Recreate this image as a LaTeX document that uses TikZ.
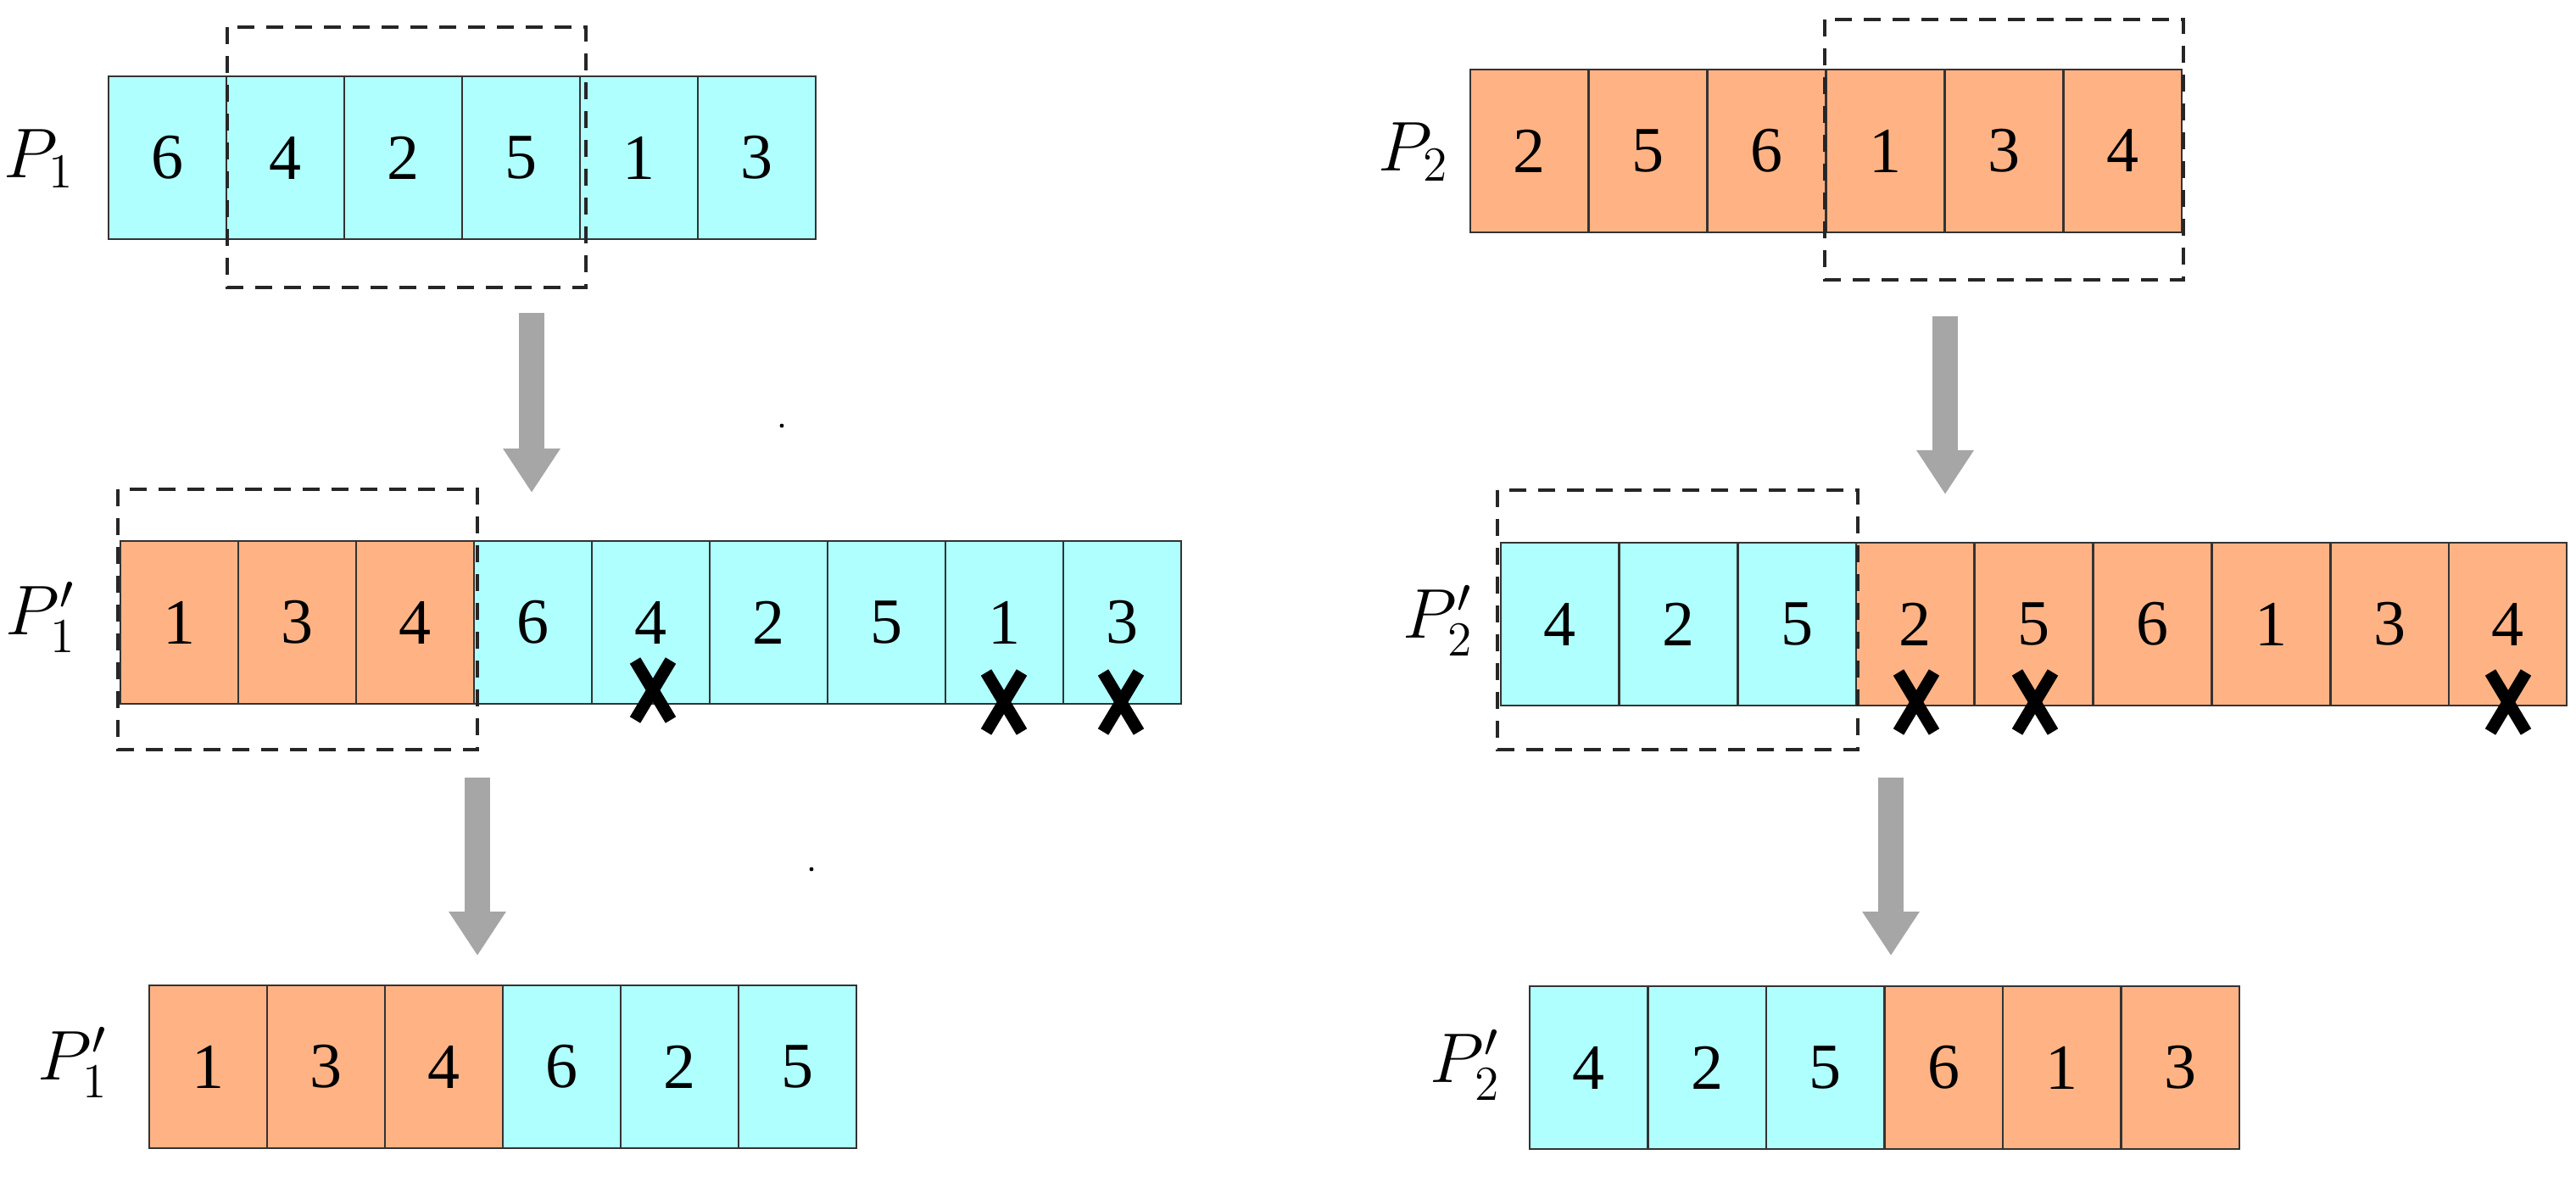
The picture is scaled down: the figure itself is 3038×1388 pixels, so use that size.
\documentclass[tikz,border=0pt]{standalone}
\usepackage{fontspec}
\setmainfont{Liberation Serif}
\usetikzlibrary{arrows.meta}
\definecolor{cy}{HTML}{B0FFFF}
\definecolor{orr}{HTML}{FFB385}
\definecolor{ag}{HTML}{A6A6A6}
\begin{document}
\begin{tikzpicture}[x=0.25pt,y=-0.25pt,
  cell/.style={draw=black!80,line width=0.5pt,minimum width=34.75pt,minimum height=48pt,inner sep=0pt,outer sep=0pt,anchor=north west,font=\fontsize{19}{19}\selectfont},
  c/.style={cell,fill=cy},o/.style={cell,fill=orr},
  dbox/.style={draw=black!85,line width=0.9pt,dash pattern=on 5pt off 3.5pt},
  garrow/.style={draw=ag,line width=7.3pt,-{Triangle[length=13pt,width=16pt]}},
  xm/.style={line width=3.6pt,black},
  lab/.style={font=\fontsize{21}{21}\selectfont}]
\useasboundingbox (0,0) rectangle (3038,1388);
% row 1 left
\foreach \v [count=\i] in {6,4,2,5,1,3} \node[c] (a\i) at ({128+139*(\i-1)},90) {\v};
\node[lab] (la) at (46,187) {$P_1$};
\draw[dbox] (268,32) rectangle (691,339);
% row 2 left
\foreach \v/\s [count=\i] in {1/o,3/o,4/o,6/c,4/c,2/c,5/c,1/c,3/c} \node[\s] (b\i) at ({142+139*(\i-1)},638) {\v};
\node[lab] (lb) at (48,728) {$P_1'$};
\draw[dbox] (139,577) rectangle (563,884);
% row 3 left
\foreach \v/\s [count=\i] in {1/o,3/o,4/o,6/c,2/c,5/c} \node[\s] (e\i) at ({176+139*(\i-1)},1162) {\v};
\node[lab] (le) at (86,1253) {$P_1'$};
% arrows left
\coordinate (s1) at (627,369); \coordinate (t1) at (627,581);
\coordinate (s2) at (563,917); \coordinate (t2) at (563,1127);
\draw[garrow] (s1) -- (t1);
\draw[garrow] (s2) -- (t2);
% X marks left
\coordinate (x1) at (770,814); \coordinate (x2) at (1184,828); \coordinate (x3) at (1322,828);
\foreach \p in {x1,x2,x3}{\draw[xm] ([shift={(-21,-35)}]\p) -- ([shift={(21,35)}]\p); \draw[xm] ([shift={(21,-35)}]\p) -- ([shift={(-21,35)}]\p);}
% row 1 right
\foreach \v [count=\i] in {2,5,6,1,3,4} \node[o] (r\i) at ({1734+140*(\i-1)},82) {\v};
\node[lab] (lr) at (1667,179) {$P_2$};
\draw[dbox] (2152,23) rectangle (2575,330);
% row 2 right
\foreach \v/\s [count=\i] in {4/c,2/c,5/c,2/o,5/o,6/o,1/o,3/o,4/o} \node[\s] (q\i) at ({1770+139.8*(\i-1)},640) {\v};
\node[lab] (lq) at (1696,732) {$P_2'$};
\draw[dbox] (1766,578) rectangle (2191,884);
% row 3 right
\foreach \v/\s [count=\i] in {4/c,2/c,5/c,6/o,1/o,3/o} \node[\s] (w\i) at ({1804+139.5*(\i-1)},1163) {\v};
\node[lab] (lw) at (1728,1256) {$P_2'$};
% arrows right
\coordinate (s3) at (2294,373); \coordinate (t3) at (2294,583);
\coordinate (s4) at (2230,917); \coordinate (t4) at (2230,1127);
\draw[garrow] (s3) -- (t3);
\draw[garrow] (s4) -- (t4);
\coordinate (y1) at (2260,828); \coordinate (y2) at (2400,828); \coordinate (y3) at (2958,828);
\foreach \p in {y1,y2,y3}{\draw[xm] ([shift={(-21,-35)}]\p) -- ([shift={(21,35)}]\p); \draw[xm] ([shift={(21,-35)}]\p) -- ([shift={(-21,35)}]\p);}
% stray dots
\fill (922,502) circle (0.6pt);
\fill (957,1025) circle (0.6pt);
\end{tikzpicture}
\end{document}
